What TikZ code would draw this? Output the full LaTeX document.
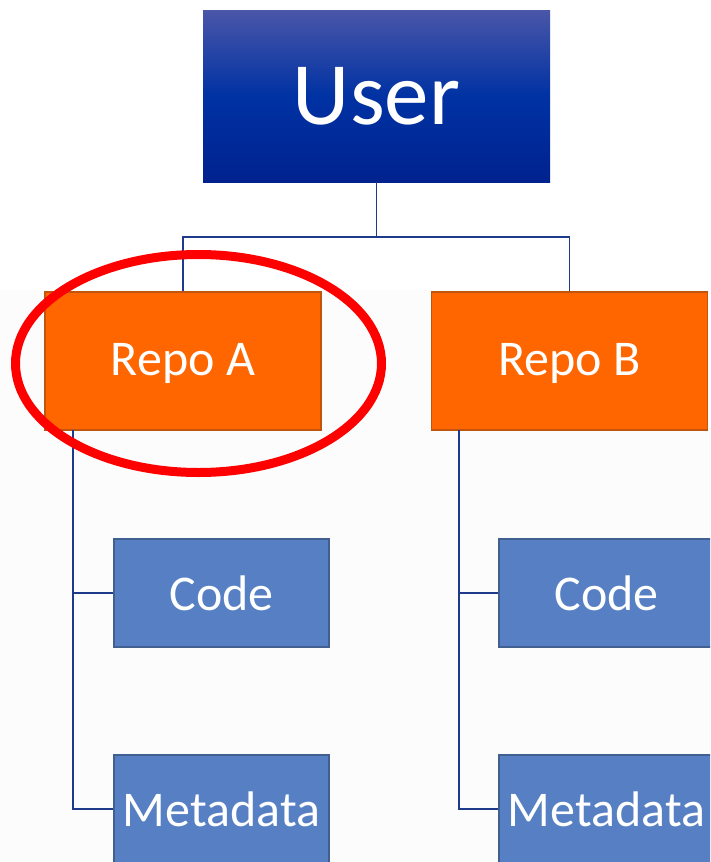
\documentclass[tikz,border=0pt]{standalone}
\usepackage{fontspec}
\setmainfont{Carlito}
\definecolor{lineblue}{HTML}{1F3A8A}
\definecolor{repofill}{HTML}{FF6600}
\definecolor{repoedge}{HTML}{C0560E}
\definecolor{leaffill}{HTML}{5680C3}
\definecolor{leafedge}{HTML}{41608F}
\definecolor{usertop}{HTML}{4A56A8}
\definecolor{usermid}{HTML}{0032A3}
\definecolor{userbot}{HTML}{00228F}
\definecolor{paper}{HTML}{FCFCFC}
\tikzset{
  userbox/.style={rectangle, minimum width=347pt, minimum height=172pt, inner sep=0pt,
    top color=usertop, bottom color=userbot, middle color=usermid,
    text=white, font=\fontsize{89}{89}\selectfont},
  repobox/.style={rectangle, draw=repoedge, line width=1.5pt, fill=repofill,
    minimum width=276pt, minimum height=138pt, inner sep=0pt, text depth=4pt,
    text=white, font=\fontsize{50}{50}\selectfont},
  leafbox/.style={rectangle, draw=leafedge, line width=1.5pt, fill=leaffill,
    minimum width=215pt, minimum height=108pt, inner sep=0pt,
    text=white, font=\fontsize{50}{50}\selectfont},
  conn/.style={draw=lineblue, line width=1.3pt},
  mark ring/.style={draw=red, line width=9pt}
}
\begin{document}
\begin{tikzpicture}[x=1pt,y=-1pt]
\useasboundingbox (0,0) rectangle (710,862);
\clip (0,0) rectangle (710,862);
\fill[white] (0,0) rectangle (710,862);
\fill[paper] (0,290) rectangle (710,862);
% junction coordinates
\coordinate (j) at (376.5,237);
\coordinate (ta) at (73,430);
\coordinate (tb) at (459,430);
% nodes
\node[userbox] (user) at (376.5,96) {User};
\node[repobox] (repoA) at (183,361) {Repo A};
\node[repobox] (repoB) at (569.5,361) {Repo B};
\node[leafbox] (codeA) at (221.5,593) {Code};
\node[leafbox] (metaA) at (221.5,809) {Metadata};
\node[leafbox] (codeB) at (606.5,593) {Code};
\node[leafbox] (metaB) at (606.5,809) {Metadata};
% connectors
\draw[conn] (user.south) -- (j);
\draw[conn] (repoA.north) |- (j) -| (repoB.north);
\draw[conn] (ta) |- (codeA.west);
\draw[conn] (ta) |- (metaA.west);
\draw[conn] (tb) |- (codeB.west);
\draw[conn] (tb) |- (metaB.west);
% highlight ring
\draw[mark ring] (198.5,363.5) ellipse [x radius=183, y radius=109];
\end{tikzpicture}
\end{document}
